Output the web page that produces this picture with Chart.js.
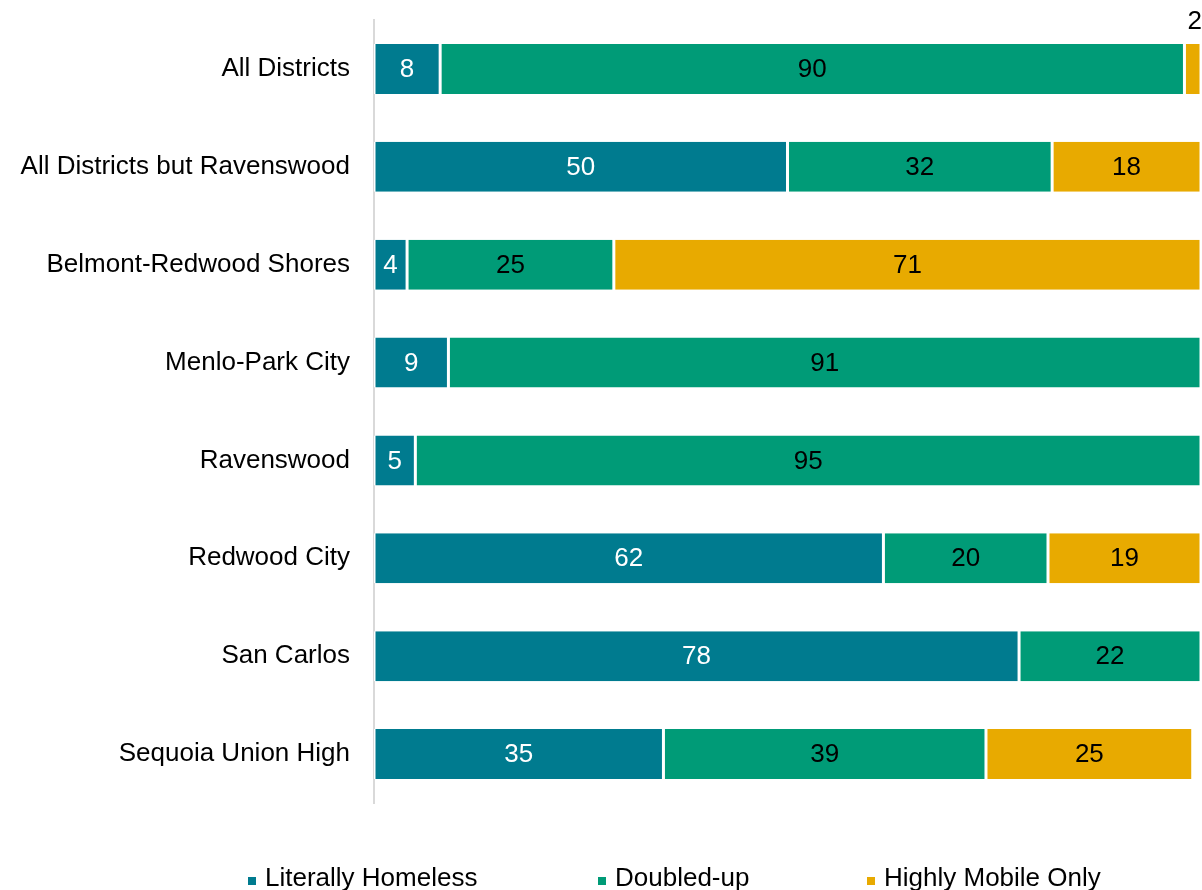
<!DOCTYPE html>
<html>
<head>
<meta charset="utf-8">
<script src="https://cdn.jsdelivr.net/npm/chart.js@4"></script>
<style>
  body { margin: 0; background: #fff; }
  #wrap { position: relative; width: 1202px; height: 890px; }
  #legend { position: absolute; left: 0; top: 862px; width: 1202px; height: 30px;
            font: 26px "Liberation Sans", Arial, sans-serif; color: #000; }
  .item { position: absolute; line-height: 30px; white-space: nowrap; }
  .box { display: inline-block; width: 8px; height: 8px; margin-right: 9px; vertical-align: 1px; }
</style>
</head>
<body>
<div id="wrap">
  <canvas id="chart" width="1202" height="890"></canvas>
  <div id="legend"></div>
</div>
<script>
const categories = ['All Districts', 'All Districts but Ravenswood', 'Belmont-Redwood Shores',
  'Menlo-Park City', 'Ravenswood', 'Redwood City', 'San Carlos', 'Sequoia Union High'];
const literallyHomeless = [8, 50, 4, 9, 5, 61.6, 78, 35];
const doubledUp = [90, 32, 25, 91, 95, 19.9, 22, 39];
const highlyMobile = [2, 18, 71, 0, 0, 18.5, 0, 25];
const seriesNames = ['Literally Homeless', 'Doubled-up', 'Highly Mobile Only'];
const colors = ['#007B8F', '#009B77', '#E8AA00'];
const labelColors = ['#fff', '#000', '#000'];
const fontFamily = '"Liberation Sans", Arial, sans-serif';

const barLabels = {
  id: 'barLabels',
  afterDatasetsDraw(chart) {
    const ctx = chart.ctx;
    ctx.save();
    ctx.font = '26px ' + fontFamily;
    ctx.textAlign = 'center';
    ctx.textBaseline = 'middle';
    chart.data.datasets.forEach((ds, di) => {
      chart.getDatasetMeta(di).data.forEach((bar, i) => {
        const v = ds.data[i];
        if (!v) return;
        const cx = (bar.x + bar.base) / 2;
        if (v < 3) {
          ctx.fillStyle = '#000';
          ctx.fillText(Math.round(v), cx + 2, bar.y - bar.height / 2 - 22);
        } else {
          ctx.fillStyle = labelColors[di];
          ctx.fillText(Math.round(v), cx, bar.y + 1);
        }
      });
    });
    ctx.restore();
  }
};

new Chart(document.getElementById('chart'), {
  type: 'bar',
  data: {
    labels: categories,
    datasets: [literallyHomeless, doubledUp, highlyMobile].map((d, i) => ({
      label: seriesNames[i],
      data: d,
      backgroundColor: colors[i],
      borderColor: '#fff',
      borderWidth: { left: 1.5, right: 1.5, top: 0, bottom: 0 },
      borderSkipped: false,
      barPercentage: 1,
      categoryPercentage: 0.51
    }))
  },
  options: {
    indexAxis: 'y',
    responsive: false,
    animation: false,
    layout: { padding: { top: 20, bottom: 87, right: 1, left: 0 } },
    plugins: { legend: { display: false }, tooltip: { enabled: false } },
    scales: {
      x: { stacked: true, min: 0, max: 100, display: false },
      y: {
        stacked: true,
        grid: { display: false, drawTicks: false },
        border: { color: '#D9D9D9', width: 2 },
        ticks: { color: '#000', padding: 24, font: { family: fontFamily, size: 26 } },
        afterFit(scale) {
          scale.width = 374;
          scale.paddingTop = 0;
          scale.paddingBottom = 0;
        }
      }
    }
  },
  plugins: [barLabels]
});

const legendX = [248, 598, 867];
const legend = document.getElementById('legend');
seriesNames.forEach((name, i) => {
  const item = document.createElement('div');
  item.className = 'item';
  item.style.left = legendX[i] + 'px';
  item.innerHTML = '<span class="box" style="background:' + colors[i] + '"></span>' + name;
  legend.appendChild(item);
});
</script>
</body>
</html>
